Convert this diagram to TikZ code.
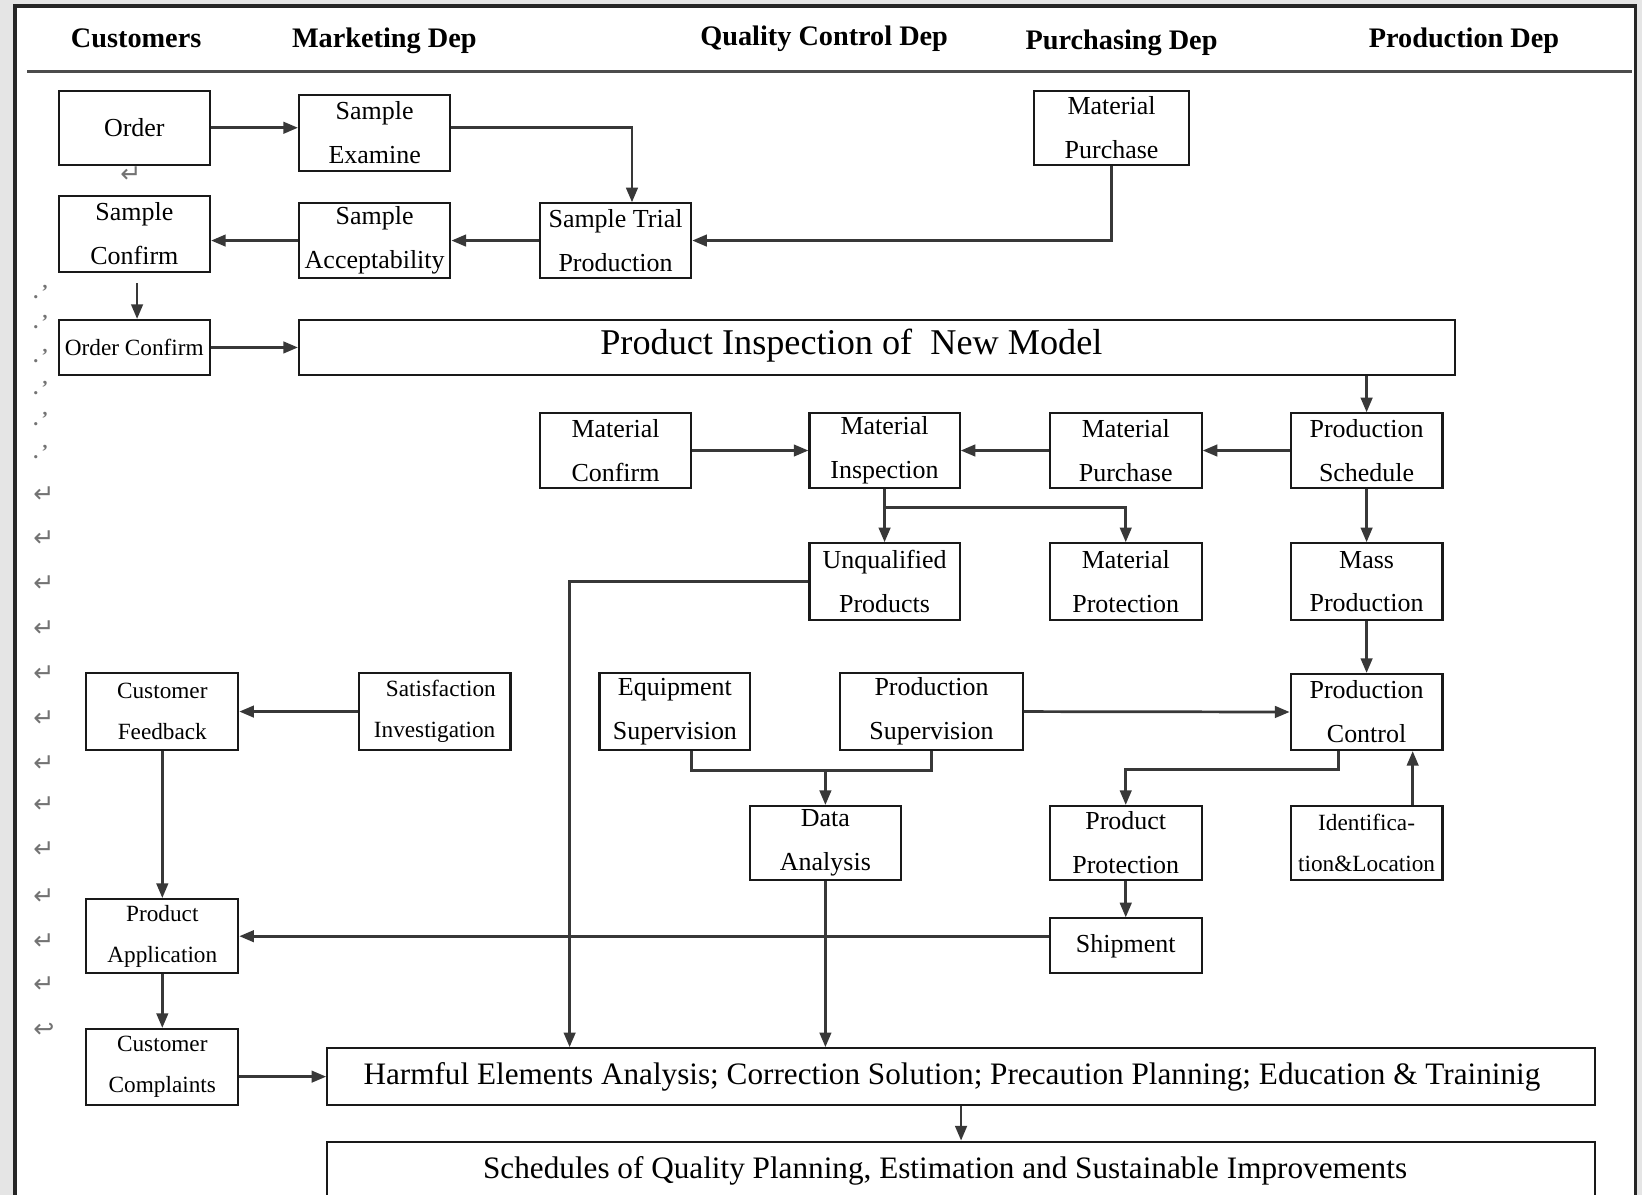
\documentclass[tikz,border=0pt]{standalone}
\usepackage{fontspec}
\setmainfont{Liberation Serif}
\newfontfamily\djv{DejaVu Sans}
\usetikzlibrary{arrows.meta}
\begin{document}
\begin{tikzpicture}[x=0.5pt,y=-0.5pt,
  box/.style={draw=black!90, line width=1pt, fill=white, inner sep=0pt, align=center,
    minimum width=72.25pt, minimum height=35.75pt, font=\fontsize{12.4}{21}\selectfont},
  small/.style={font=\fontsize{11.1}{19.5}\selectfont},
  conn/.style={draw=black!78, line width=1.3pt},
  arr/.style={conn, -{Triangle[length=7pt,width=5.5pt]}},
  hdr/.style={font=\fontsize{13.5}{16}\selectfont\bfseries, inner sep=0pt},
  pmark/.style={text=black!55, font=\djv\fontsize{12}{12}\selectfont, inner sep=0pt},
  dmark/.style={text=black!55, font=\fontsize{9.5}{10}\selectfont\bfseries, inner sep=0pt},
  bigtext/.style={inner sep=0pt}]
\useasboundingbox (0,0) rectangle (1568,1141);
\clip (0,0) rectangle (1568,1141);
% background and frame
\fill[black!10] (0,0) rectangle (1568,1141);
\fill[white] (14.3,5.7) rectangle (1562,1160);
\draw[black!85, line width=1.5pt] (14.3,1160) -- (14.3,5.7) -- (1562,5.7) -- (1562,1160);
\draw[black!70, line width=1.2pt] (26,68.5) -- (1558,68.5);
% headers
\node[hdr] (h1) at (130,37) {Customers};
\node[hdr] (h2) at (367,39) {Marketing Dep};
\node[hdr] (h3) at (787,37) {Quality Control Dep};
\node[hdr] (h4) at (1071,41) {Purchasing Dep};
\node[hdr] (h5) at (1398,39) {Production Dep};
% paragraph marks
\foreach \yy [count=\i] in {472.7,514,557,600,643,686,729,768.7,811.7,856.3,899,940.6}
  \node[pmark] (pm\i) at (42,\yy) {↵};
\node[pmark] (pmlast) at (42,983.6) {↩};
\node[pmark] (pmorder) at (125,167) {↵};
\foreach \yy [count=\i] in {279,307.5,340,370.5,400,431.6}
  \node[dmark] (dm\i) at (39,\yy) {.\,'};
% boxes
\node[box, minimum height=35.3pt] (order) at (128.3,122) {Order};
\node[box, minimum height=36.3pt] (sexam) at (357.8,127) {Sample\\Examine};
\node[box, minimum width=73.85pt, minimum height=35.3pt] (mp1) at (1061.5,122) {Material\\Purchase};
\node[box, minimum height=36.3pt] (sconf) at (128.3,223.1) {Sample\\Confirm};
\node[box, minimum height=35.5pt] (sacc) at (357.8,229.7) {Sample\\Acceptability};
\node[box, minimum height=35.5pt] (strial) at (587.8,229.7) {Sample Trial\\Production};
\node[box, small, minimum height=26.2pt] (oconf) at (128.3,331.8) {Order Confirm};
\node[box, minimum width=551.75pt, minimum height=26.2pt] (pinsp) at (837.3,331.8) {};
\node[bigtext, font=\fontsize{17.3}{20}\selectfont] (pinspt) at (813,330) {Product Inspection of\ \ New Model};
\node[box, minimum height=35.5pt] (mconf) at (587.8,430.2) {Material\\Confirm};
\node[box, minimum width=71.7pt, minimum height=35.5pt] (minsp) at (844.7,430.2) {Material\\Inspection};
\node[box, minimum width=72.5pt, minimum height=35.5pt] (mp2) at (1075,430.2) {Material\\Purchase};
\node[box, minimum width=72.5pt, minimum height=35.5pt] (psched) at (1305,430.2) {Production\\Schedule};
\node[box, minimum width=71.7pt, minimum height=36.6pt] (unq) at (844.7,555.4) {Unqualified\\Products};
\node[box, minimum width=72.5pt, minimum height=36.6pt] (mprot) at (1075,555.4) {Material\\Protection};
\node[box, minimum width=72.5pt, minimum height=36.6pt] (mass) at (1305,555.4) {Mass\\Production};
\node[box, small, minimum width=72.5pt, minimum height=36.5pt] (cfb) at (155,679.5) {Customer\\Feedback};
\node[box, small, minimum width=72.5pt, minimum height=36.5pt] (satis) at (415,679.5) {\hspace*{6pt}Satisfaction\\Investigation};
\node[box, minimum width=72pt, minimum height=36.5pt] (equip) at (644.5,679.5) {Equipment\\Supervision};
\node[box, minimum width=87pt, minimum height=36.5pt] (psup) at (889.5,679.5) {Production\\Supervision};
\node[box, minimum width=72.5pt, minimum height=36.3pt] (pctrl) at (1305,679.9) {Production\\Control};
\node[box, minimum width=72.2pt, minimum height=35.3pt] (data) at (788.2,805) {Data\\Analysis};
\node[box, minimum width=72.5pt, minimum height=35.3pt] (pprot) at (1075,805) {Product\\Protection};
\node[box, small, minimum width=72.5pt, minimum height=35.3pt] (ident) at (1305,805) {Identifica-\\tion\&Location};
\node[box, small, minimum width=72.5pt, minimum height=35.45pt] (papp) at (155,894) {Product\\Application};
\node[box, minimum width=72.5pt, minimum height=26.2pt] (ship) at (1075,903.2) {Shipment};
\node[box, small, minimum width=72.5pt, minimum height=36.3pt] (ccomp) at (155,1018.9) {Customer\\Complaints};
\node[box, minimum width=605.25pt, minimum height=27.1pt] (harm) at (917.75,1028.1) {};
\node[bigtext, font=\fontsize{14.9}{18}\selectfont] (harmt) at (909,1028) {Harmful Elements Analysis; Correction Solution; Precaution Planning; Education \& Traininig};
\node[box, minimum width=605.25pt, minimum height=40pt] (sched) at (917.75,1130.2) {};
\node[bigtext, font=\fontsize{14.9}{18}\selectfont] (schedt) at (902.5,1118) {Schedules of Quality Planning, Estimation and Sustainable Improvements};
% connectors
\draw[arr] (order.east) -- (sexam.west |- order.east);
\draw[arr] (sexam.east |- order.east) -| ([xshift=7.85pt]strial.north);
\draw[arr] (mp1.south) |- (strial.east);
\draw[arr] (strial.west) -- (sacc.east);
\draw[arr] (sacc.west) -- (sconf.east |- sacc.west);
\draw[arr, shorten <=5pt] ([xshift=1.3pt]sconf.south) -- ([xshift=1.3pt]oconf.north);
\draw[arr] (oconf.east) -- (pinsp.west);
\draw[arr] (pinsp.south -| psched.north) -- (psched.north);
\draw[arr] (psched.west) -- (mp2.east);
\draw[arr] (mp2.west) -- (minsp.east);
\draw[arr] (mconf.east) -- (minsp.west);
\draw[arr] (minsp.south) -- (unq.north);
\draw[arr] ([yshift=-9pt]minsp.south) -| (mprot.north);
\draw[arr] (psched.south) -- (mass.north);
\draw[arr] (mass.south) -- (pctrl.north);
\draw[arr] (unq.west) -| ([xshift=-186.9pt]harm.north);
\draw[arr] (satis.west) -- (cfb.east);
\draw[arr] (cfb.south) -- (papp.north);
\draw[arr] (psup.east) -- (pctrl.west);
\path ([yshift=-9.35pt]psup.south) coordinate (j1);
\draw[conn] ([xshift=7.75pt]equip.south) |- (j1) -- (psup.south);
\draw[arr] (data.north |- j1) -- (data.north);
\draw[arr] ([xshift=-13.5pt]pctrl.south) -- ++(0,17.5) -| (pprot.north);
\draw[arr] ([xshift=22pt]ident.north) -- ([xshift=22pt]pctrl.south);
\draw[arr] (pprot.south) -- (ship.north);
\draw[arr] (ship.west |- papp.east) -- (papp.east);
\draw[arr] (data.south) -- (harm.north -| data.south);
\draw[arr] (papp.south) -- (ccomp.north);
\draw[arr] (ccomp.east |- harm.west) -- (harm.west);
\draw[arr] (harm.south -| sched.north) -- (sched.north);
\end{tikzpicture}
\end{document}
